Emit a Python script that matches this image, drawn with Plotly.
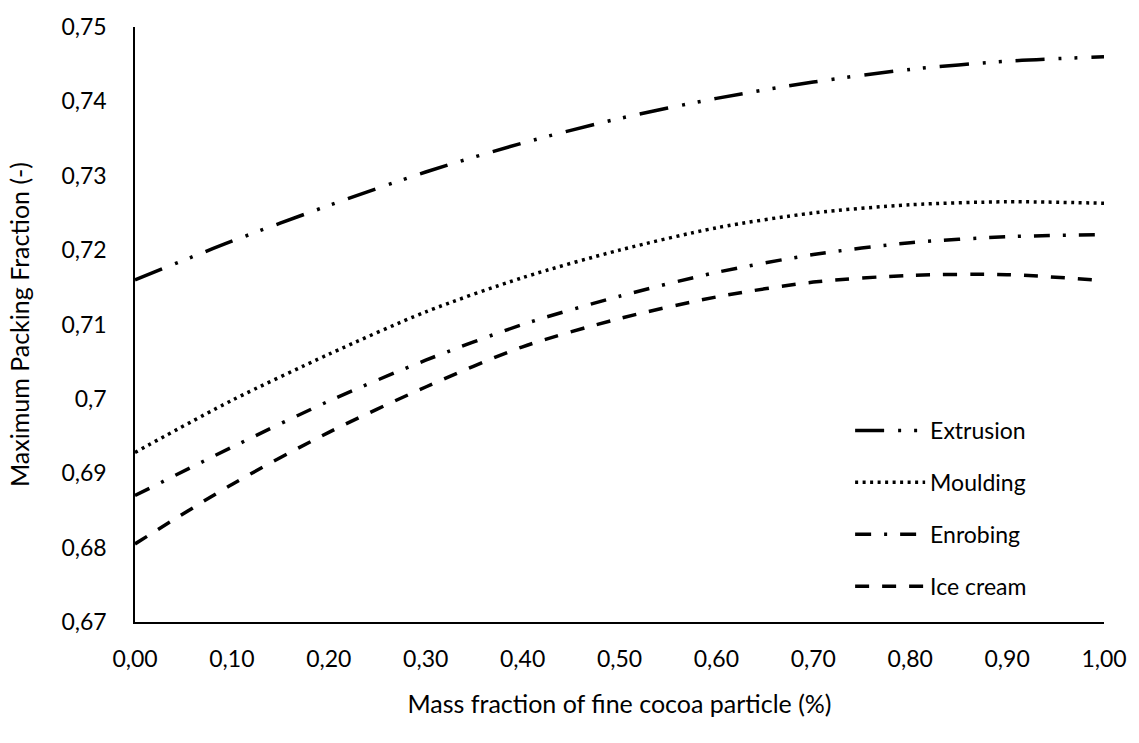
import plotly.graph_objects as go

x_vals = [0.0, 0.1, 0.2, 0.3, 0.4, 0.5, 0.6, 0.7, 0.8, 0.9, 1.0]
extrusion = [0.7160, 0.7212, 0.7260, 0.7305, 0.7344, 0.7377, 0.7404, 0.7426, 0.7443, 0.7454, 0.7460]
moulding = [0.6928, 0.6998, 0.7060, 0.7117, 0.7163, 0.7200, 0.7230, 0.7250, 0.7261, 0.7265, 0.7263]
enrobing = [0.6870, 0.6935, 0.6997, 0.7052, 0.7100, 0.7138, 0.7170, 0.7194, 0.7210, 0.7218, 0.7221]
ice_cream = [0.6805, 0.6885, 0.6955, 0.7016, 0.7070, 0.7108, 0.7137, 0.7157, 0.7166, 0.7167, 0.7159]

series_names = ["Extrusion", "Moulding", "Enrobing", "Ice cream"]
series_values = [extrusion, moulding, enrobing, ice_cream]
series_dash = ["29px,14px,3px,13px,3px,14px", "3px,4.5px", "16px,13px,3px,13px", "14px,13px"]

x_tickvals = [0.0, 0.1, 0.2, 0.3, 0.4, 0.5, 0.6, 0.7, 0.8, 0.9, 1.0]
x_ticktext = ["0,00", "0,10", "0,20", "0,30", "0,40", "0,50", "0,60", "0,70", "0,80", "0,90", "1,00"]
y_tickvals = [0.67, 0.68, 0.69, 0.70, 0.71, 0.72, 0.73, 0.74, 0.75]
y_ticktext = ["0,67", "0,68", "0,69", "0,7", "0,71", "0,72", "0,73", "0,74", "0,75"]

FONT = "Lato, 'Open Sans', sans-serif"

fig = go.Figure()
for name, vals, dash in zip(series_names, series_values, series_dash):
    fig.add_trace(go.Scatter(
        x=x_vals, y=vals, mode="lines", name=name, legendgroup=name,
        line=dict(color="black", width=3.5, dash=dash, shape="spline", smoothing=0.8),
    ))

fig.update_layout(
    width=1139, height=743,
    margin=dict(l=135, r=28, t=24, b=121),
    paper_bgcolor="white", plot_bgcolor="white",
    font=dict(family=FONT, size=23, color="black"),
    showlegend=True,
    legend=dict(
        x=0.738, y=0.358, xanchor="left", yanchor="top",
        bgcolor="rgba(0,0,0,0)", font=dict(size=23, color="black"),
        tracegroupgap=19, itemwidth=70,
    ),
    xaxis=dict(
        range=[0, 1], tickvals=x_tickvals, ticktext=x_ticktext,
        showline=True, linecolor="black", linewidth=1.5, showgrid=False, zeroline=False,
        ticks="outside", ticklen=16, tickcolor="rgba(0,0,0,0)",
        tickfont=dict(size=23),
        title=dict(text="Mass fraction of fine cocoa particle (%)", standoff=24,
                   font=dict(size=25)),
    ),
    yaxis=dict(
        range=[0.67, 0.75], tickvals=y_tickvals, ticktext=y_ticktext,
        showline=True, linecolor="black", linewidth=1.5, showgrid=False, zeroline=False,
        ticks="outside", ticklen=22, tickcolor="rgba(0,0,0,0)",
        tickfont=dict(size=23),
        title=dict(text="Maximum Packing Fraction (-)", standoff=25, font=dict(size=25)),
    ),
)

fig.write_html(
    "out.html",
    config={"displayModeBar": False, "responsive": False},
    post_script="document.body.style.margin='0';",
)
